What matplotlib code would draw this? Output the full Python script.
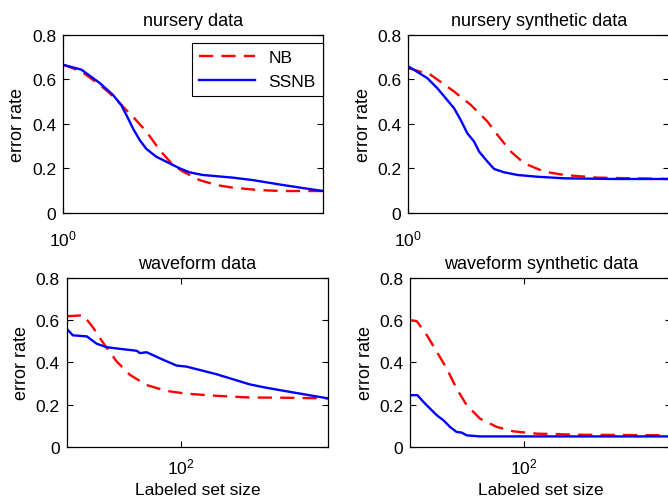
import numpy as np
import matplotlib
matplotlib.use("Agg")
import matplotlib.pyplot as plt

plt.rcParams['font.family'] = ['Liberation Sans', 'DejaVu Sans']
plt.rcParams['mathtext.fontset'] = 'custom'
plt.rcParams['mathtext.rm'] = 'Liberation Sans'
plt.rcParams['mathtext.it'] = 'Liberation Sans'

# nursery data
nur_ss_x = [1, 1.158, 1.341, 1.49, 1.593, 1.682, 1.749, 1.847, 1.949, 2.109, 2.543, 2.752, 3.06, 3.896, 4.571, 5.81, 8.0]
nur_ss_y = [0.665, 0.643, 0.583, 0.530, 0.485, 0.425, 0.380, 0.327, 0.287, 0.252, 0.200, 0.182, 0.170, 0.158, 0.147, 0.125, 0.098]
nur_nb_x = [1, 1.158, 1.341, 1.451, 1.593, 1.749, 1.949, 2.167, 2.41, 2.614, 2.985, 3.41, 3.896, 4.82, 5.81, 8.0]
nur_nb_y = [0.665, 0.635, 0.575, 0.538, 0.485, 0.432, 0.365, 0.282, 0.215, 0.185, 0.147, 0.125, 0.113, 0.102, 0.098, 0.098]

# nursery synthetic data
nsy_ss_x = [1, 1.164, 1.261, 1.441, 1.520, 1.603, 1.691, 1.760, 1.881, 1.984, 2.149, 2.391, 2.806, 3.472, 5.18, 8.0]
nsy_ss_y = [0.658, 0.605, 0.560, 0.470, 0.417, 0.357, 0.320, 0.275, 0.230, 0.197, 0.182, 0.170, 0.162, 0.155, 0.152, 0.152]
nsy_nb_x = [1, 1.196, 1.441, 1.646, 1.881, 2.037, 2.267, 2.522, 2.959, 3.472, 4.53, 8.0]
nsy_nb_y = [0.650, 0.620, 0.545, 0.485, 0.410, 0.350, 0.275, 0.222, 0.185, 0.170, 0.158, 0.152]

# waveform data
wav_ss_x = [25, 26.9, 31.9, 36.0, 40.6, 47.8, 58.5, 60.9, 66.0, 80.9, 95.1, 107.4, 126.3, 154.6, 189.2, 231.7, 283.7, 392.2, 600]
wav_ss_y = [0.559, 0.528, 0.523, 0.488, 0.472, 0.464, 0.455, 0.444, 0.448, 0.412, 0.385, 0.380, 0.364, 0.344, 0.320, 0.296, 0.280, 0.258, 0.230]
wav_nb_x = [25, 30.6, 34.6, 39.0, 45.9, 53.9, 66.0, 84.2, 107.4, 154.6, 231.7, 347.3, 600]
wav_nb_y = [0.618, 0.623, 0.562, 0.491, 0.404, 0.341, 0.293, 0.265, 0.252, 0.242, 0.234, 0.233, 0.230]

# waveform synthetic data
wsy_ss_x = [25, 27.3, 29.4, 31.9, 34.6, 37.5, 40.6, 44.0, 46.8, 49.8, 58.5, 600]
wsy_ss_y = [0.245, 0.245, 0.213, 0.181, 0.150, 0.126, 0.095, 0.071, 0.068, 0.055, 0.050, 0.050]
wsy_nb_x = [25, 27.1, 30.6, 34.6, 39.0, 44.0, 49.8, 58.5, 71.6, 87.7, 116.5, 197.1, 600]
wsy_nb_y = [0.600, 0.595, 0.529, 0.450, 0.371, 0.276, 0.197, 0.134, 0.095, 0.074, 0.063, 0.058, 0.055]

titles = ["nursery data", "nursery synthetic data", "waveform data", "waveform synthetic data"]
series = [(nur_nb_x, nur_nb_y, nur_ss_x, nur_ss_y),
          (nsy_nb_x, nsy_nb_y, nsy_ss_x, nsy_ss_y),
          (wav_nb_x, wav_nb_y, wav_ss_x, wav_ss_y),
          (wsy_nb_x, wsy_nb_y, wsy_ss_x, wsy_ss_y)]
xlims = [(1, 8), (1, 8), (25, 600), (25, 600)]
xticks = [[1], [1], [100], [100]]
xticklabels = [[r"$10^0$"], [r"$10^0$"], [r"$10^2$"], [r"$10^2$"]]

fig = plt.figure(figsize=(6.68, 5.02), dpi=100)
rects = [[0.0943, 0.574, 0.389, 0.355],
         [0.611, 0.574, 0.3907, 0.355],
         [0.100, 0.1076, 0.391, 0.337],
         [0.614, 0.1076, 0.391, 0.337]]

for i in range(4):
    ax = fig.add_axes(rects[i])
    nbx, nby, ssx, ssy = series[i]
    ax.plot(nbx, nby, color=(1, 0, 0), lw=1.7, dashes=(6, 3.5), label="NB")
    ax.plot(ssx, ssy, color=(0, 0, 1), lw=1.7, label="SSNB")
    ax.set_xscale('log')
    ax.set_xlim(xlims[i])
    ax.set_ylim(0, 0.8)
    ax.set_xticks(xticks[i])
    ax.set_xticklabels(xticklabels[i])
    ax.xaxis.set_minor_locator(matplotlib.ticker.NullLocator())
    ax.set_yticks([0, 0.2, 0.4, 0.6, 0.8])
    ax.set_yticklabels(["0", "0.2", "0.4", "0.6", "0.8"])
    ax.tick_params(direction='in', top=True, right=True, length=4, width=0.8, labelsize=12.5, pad=5)
    ax.tick_params(axis='x', pad=11.5 if i < 2 else 7)
    for s in ax.spines.values():
        s.set_linewidth(0.9)
    ax.set_title(titles[i], fontsize=13, pad=7)
    ax.set_ylabel("error rate", fontsize=13)
    if i >= 2:
        ax.set_xlabel("Labeled set size", fontsize=12.5, labelpad=4)
    if i == 0:
        leg = ax.legend(loc='upper right', bbox_to_anchor=(1.0, 0.955), borderaxespad=0,
                        fancybox=False, edgecolor='black', fontsize=12.5, handlelength=3.2,
                        framealpha=1)
        leg.get_frame().set_linewidth(0.8)

fig.savefig("out.png", dpi=100)
